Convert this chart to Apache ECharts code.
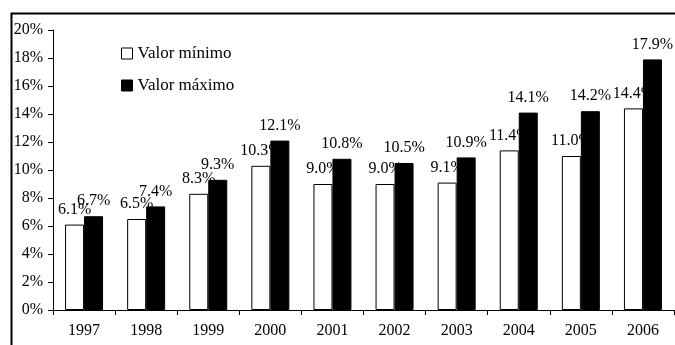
<!DOCTYPE html>
<html>
<head>
<meta charset="utf-8">
<script src="https://cdn.jsdelivr.net/npm/echarts@6/dist/echarts.min.js"></script>
<style>html,body{margin:0;padding:0;background:#fff}#c{width:675px;height:345px}</style>
</head>
<body>
<div id="c"></div>
<script>
const years = ['1997','1998','1999','2000','2001','2002','2003','2004','2005','2006'];
const minValues = [6.1, 6.5, 8.3, 10.3, 9.0, 9.0, 9.1, 11.4, 11.0, 14.4];
const maxValues = [6.7, 7.4, 9.3, 12.1, 10.8, 10.5, 10.9, 14.1, 14.2, 17.9];
const seriesNames = ['Valor mínimo', 'Valor máximo'];

const FONT = 'Liberation Serif';
const chart = echarts.init(document.getElementById('c'), null, {renderer: 'canvas'});
const lbl = {
  show: true, position: 'top', distance: 7, color: '#000',
  fontFamily: FONT, fontSize: 16,
  formatter: p => p.value.toFixed(1) + '%'
};
chart.setOption({
  animation: false,
  backgroundColor: '#fff',
  textStyle: {fontFamily: FONT},
  graphic: [{
    type: 'rect', left: 9, top: 11, z: 100, silent: true,
    shape: {width: 720, height: 400},
    style: {fill: 'none', stroke: '#000', lineWidth: 2}
  }],
  legend: {
    orient: 'vertical', left: 116, top: 40,
    itemWidth: 11, itemHeight: 11, itemGap: 15,
    textStyle: {fontFamily: FONT, fontSize: 17, color: '#000'},
    data: [
      {name: seriesNames[0], icon: 'rect', itemStyle: {color: '#fff', borderColor: '#000', borderWidth: 1}},
      {name: seriesNames[1], icon: 'rect', itemStyle: {color: '#000', borderColor: '#000', borderWidth: 1}}
    ]
  },
  grid: {left: 53, right: 1, top: 30, bottom: 35, containLabel: false},
  xAxis: {
    type: 'category', data: years,
    axisLine: {lineStyle: {color: '#000', width: 1}},
    axisTick: {show: true, length: 5, lineStyle: {color: '#000'}},
    axisLabel: {color: '#000', fontFamily: FONT, fontSize: 16, margin: 13}
  },
  yAxis: {
    type: 'value', min: 0, max: 20, interval: 2,
    axisLine: {show: true, lineStyle: {color: '#000', width: 1}},
    axisTick: {show: true, length: 5, lineStyle: {color: '#000'}},
    splitLine: {show: false},
    axisLabel: {color: '#000', fontFamily: FONT, fontSize: 16, margin: 10, formatter: '{value}%'}
  },
  series: [
    {
      name: seriesNames[0], type: 'bar', data: minValues, z: 2,
      barWidth: 19, barGap: '0%',
      itemStyle: {color: '#fff', borderColor: '#000', borderWidth: 1},
      label: lbl
    },
    {
      name: seriesNames[1], type: 'bar', data: maxValues, z: 3,
      barWidth: 19, barGap: '0%',
      itemStyle: {color: '#000', borderColor: '#000', borderWidth: 1},
      label: lbl
    }
  ]
});
</script>
</body>
</html>
